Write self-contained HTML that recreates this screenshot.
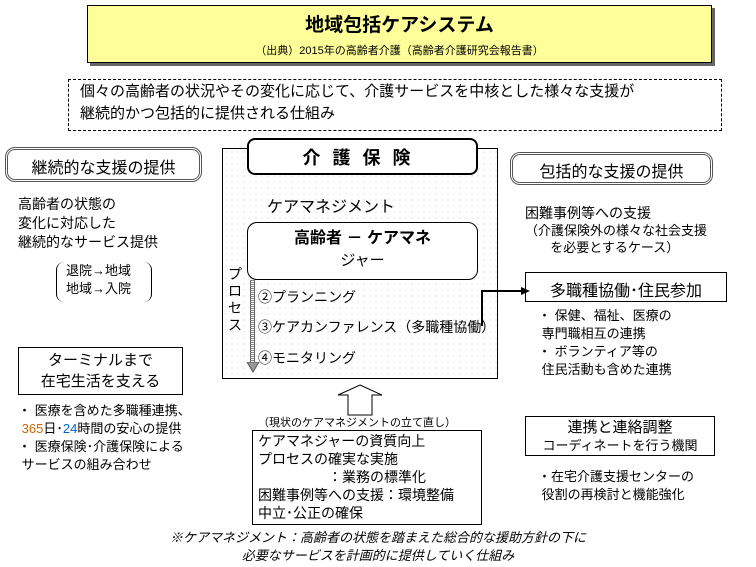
<!DOCTYPE html>
<html><head><meta charset="utf-8"><style>
body{margin:0;width:756px;height:567px;background:#fff;position:relative;overflow:hidden;font-family:"Liberation Sans","Noto Sans CJK JP",sans-serif;color:#000}
.a{position:absolute;white-space:nowrap}
.b{position:absolute;box-sizing:border-box}
</style></head><body>
<div class="b" style="left:90px;top:8px;width:625px;height:58px;background:#666"></div>
<div class="b" style="left:87px;top:5px;width:625px;height:58px;background:#ffff99;border:1px solid #000"></div>
<div class="a" style="left:87px;width:625px;top:10px;text-align:center;font-size:19px;font-weight:bold">地域包括ケアシステム</div>
<div class="a" style="left:87px;width:625px;top:42px;text-align:center;font-size:11px">（出典）2015年の高齢者介護（高齢者介護研究会報告書）</div>

<div class="b" style="left:68px;top:79px;width:654px;height:52px;border:1px dashed #000"></div>
<div class="a" style="left:80px;top:81px;font-size:15px;line-height:22px">個々の高齢者の状況やその変化に応じて、介護サービスを中核とした様々な支援が<br>継続的かつ包括的に提供される仕組み</div>

<div class="b" style="left:222px;top:148px;width:276px;height:231px;border:1px solid #000;background-color:#fff;background-image:radial-gradient(#ccc 0.5px,transparent 0.7px);background-size:6px 6px"></div>
<div class="b" style="left:247px;top:138px;width:231px;height:37px;border:2px solid #000;border-radius:8px;background:#fff"></div>
<div class="a" style="left:247px;width:231px;top:144px;text-align:center;font-size:18px;font-weight:bold;letter-spacing:12px">介護保険</div>
<div class="a" style="left:267px;top:193px;font-size:16px">ケアマネジメント</div>
<div class="b" style="left:247px;top:222px;width:231px;height:58px;border:1px solid #000;border-radius:10px;background:#fff"></div>
<div class="a" style="left:247px;width:231px;top:228px;text-align:center;font-size:16px;font-weight:bold;line-height:22px">高齢者 － ケアマネ<br><span style="font-weight:normal;font-size:15px">ジャー</span></div>
<div class="a" style="left:228px;top:266px;width:14px;font-size:14px;line-height:17px;white-space:normal">プロセス</div>
<div class="b" style="left:250px;top:280px;width:5px;height:86px;background:repeating-linear-gradient(#888 0 1px,#fff 1px 2px);border-left:1px solid #666;border-right:1px solid #666"></div>
<svg class="b" style="left:246px;top:362px" width="14" height="12"><polygon points="1,0 13,0 7,10" fill="#999" stroke="#555"/></svg>
<div class="a" style="left:258px;top:287px;font-size:14px">②プランニング</div>
<div class="a" style="left:258px;top:317px;font-size:14px">③ケアカンファレンス（多職種協働）</div>
<div class="a" style="left:258px;top:348px;font-size:14px">④モニタリング</div>
<svg class="b" style="left:470px;top:280px" width="60" height="50"><polyline points="12,46 12,11 52,11" fill="none" stroke="#000" stroke-width="2"/><polygon points="60,11 51,7 51,15" fill="#000"/></svg>

<div class="b" style="left:5px;top:147px;width:197px;height:35px;border:3px double #555;border-radius:10px"></div>
<div class="a" style="left:5px;width:197px;top:154px;text-align:center;font-size:16px">継続的な支援の提供</div>
<div class="a" style="left:18px;top:195px;font-size:14px;line-height:19px">高齢者の状態の<br>変化に対応した<br>継続的なサービス提供</div>
<div class="b" style="left:56px;top:262px;width:96px;height:40px;border:1px solid #000;border-top:none;border-bottom:none;border-radius:8px"></div>
<div class="a" style="left:66px;top:262px;font-size:13px;line-height:18px">退院→地域<br>地域→入院</div>
<div class="b" style="left:18px;top:347px;width:165px;height:48px;border:1px solid #000"></div>
<div class="a" style="left:18px;width:165px;top:350px;text-align:center;font-size:15px;line-height:21px">ターミナルまで<br>在宅生活を支える</div>
<div class="a" style="left:18px;top:402px;font-size:13px;line-height:18px">・ 医療を含めた多職種連携、<br>&nbsp;<span style="color:#c60">365</span>日･<span style="color:#06c">24</span>時間の安心の提供<br>・ 医療保険･介護保険による<br>&nbsp;サービスの組み合わせ</div>

<div class="b" style="left:510px;top:152px;width:203px;height:33px;border:3px double #555;border-radius:10px"></div>
<div class="a" style="left:510px;width:203px;top:158px;text-align:center;font-size:16px">包括的な支援の提供</div>
<div class="a" style="left:525px;top:203px;font-size:14px">困難事例等への支援</div>
<div class="a" style="left:525px;top:222px;font-size:13px;line-height:17px">（介護保険外の様々な社会支援<br>&nbsp;&nbsp;&nbsp;&nbsp;&nbsp;&nbsp;&nbsp;を必要とするケース）</div>
<div class="b" style="left:525px;top:272px;width:202px;height:30px;border:1px solid #000"></div>
<div class="a" style="left:525px;width:202px;top:277px;text-align:center;font-size:16px">多職種協働･住民参加</div>
<div class="a" style="left:538px;top:307px;font-size:13px;line-height:18px">・ 保健、福祉、医療の<br>&nbsp;専門職相互の連携<br>・ ボランティア等の<br>&nbsp;住民活動も含めた連携</div>
<div class="b" style="left:525px;top:416px;width:190px;height:40px;border:1px solid #000"></div>
<div class="a" style="left:525px;width:190px;top:419px;text-align:center;font-size:15px;line-height:18px">連携と連絡調整<br><span style="font-size:13px">コーディネートを行う機関</span></div>
<div class="a" style="left:538px;top:468px;font-size:13px;line-height:18px">・在宅介護支援センターの<br>&nbsp;役割の再検討と機能強化</div>

<svg class="b" style="left:336px;top:384px" width="48" height="32"><polygon points="24,1 46,11 36,11 36,31 12,31 12,11 2,11" fill="#fff" stroke="#000"/></svg>
<div class="a" style="left:258px;top:414px;font-size:11px">（現状のケアマネジメントの立て直し）</div>
<div class="b" style="left:252px;top:430px;width:230px;height:95px;border:1px solid #000"></div>
<div class="a" style="left:258px;top:432px;font-size:14px;line-height:18px">ケアマネジャーの資質向上<br>プロセスの確実な実施<br>&nbsp;&nbsp;&nbsp;&nbsp;&nbsp;&nbsp;&nbsp;&nbsp;&nbsp;&nbsp;&nbsp;&nbsp;&nbsp;&nbsp;&nbsp;&nbsp;&nbsp;&nbsp;：業務の標準化<br>困難事例等への支援：環境整備<br>中立･公正の確保</div>
<div class="a" style="left:0;width:756px;top:529px;text-align:center;font-size:13px;line-height:18px;font-style:italic">※ケアマネジメント：高齢者の状態を踏まえた総合的な援助方針の下に<br>必要なサービスを計画的に提供していく仕組み</div>
</body></html>
